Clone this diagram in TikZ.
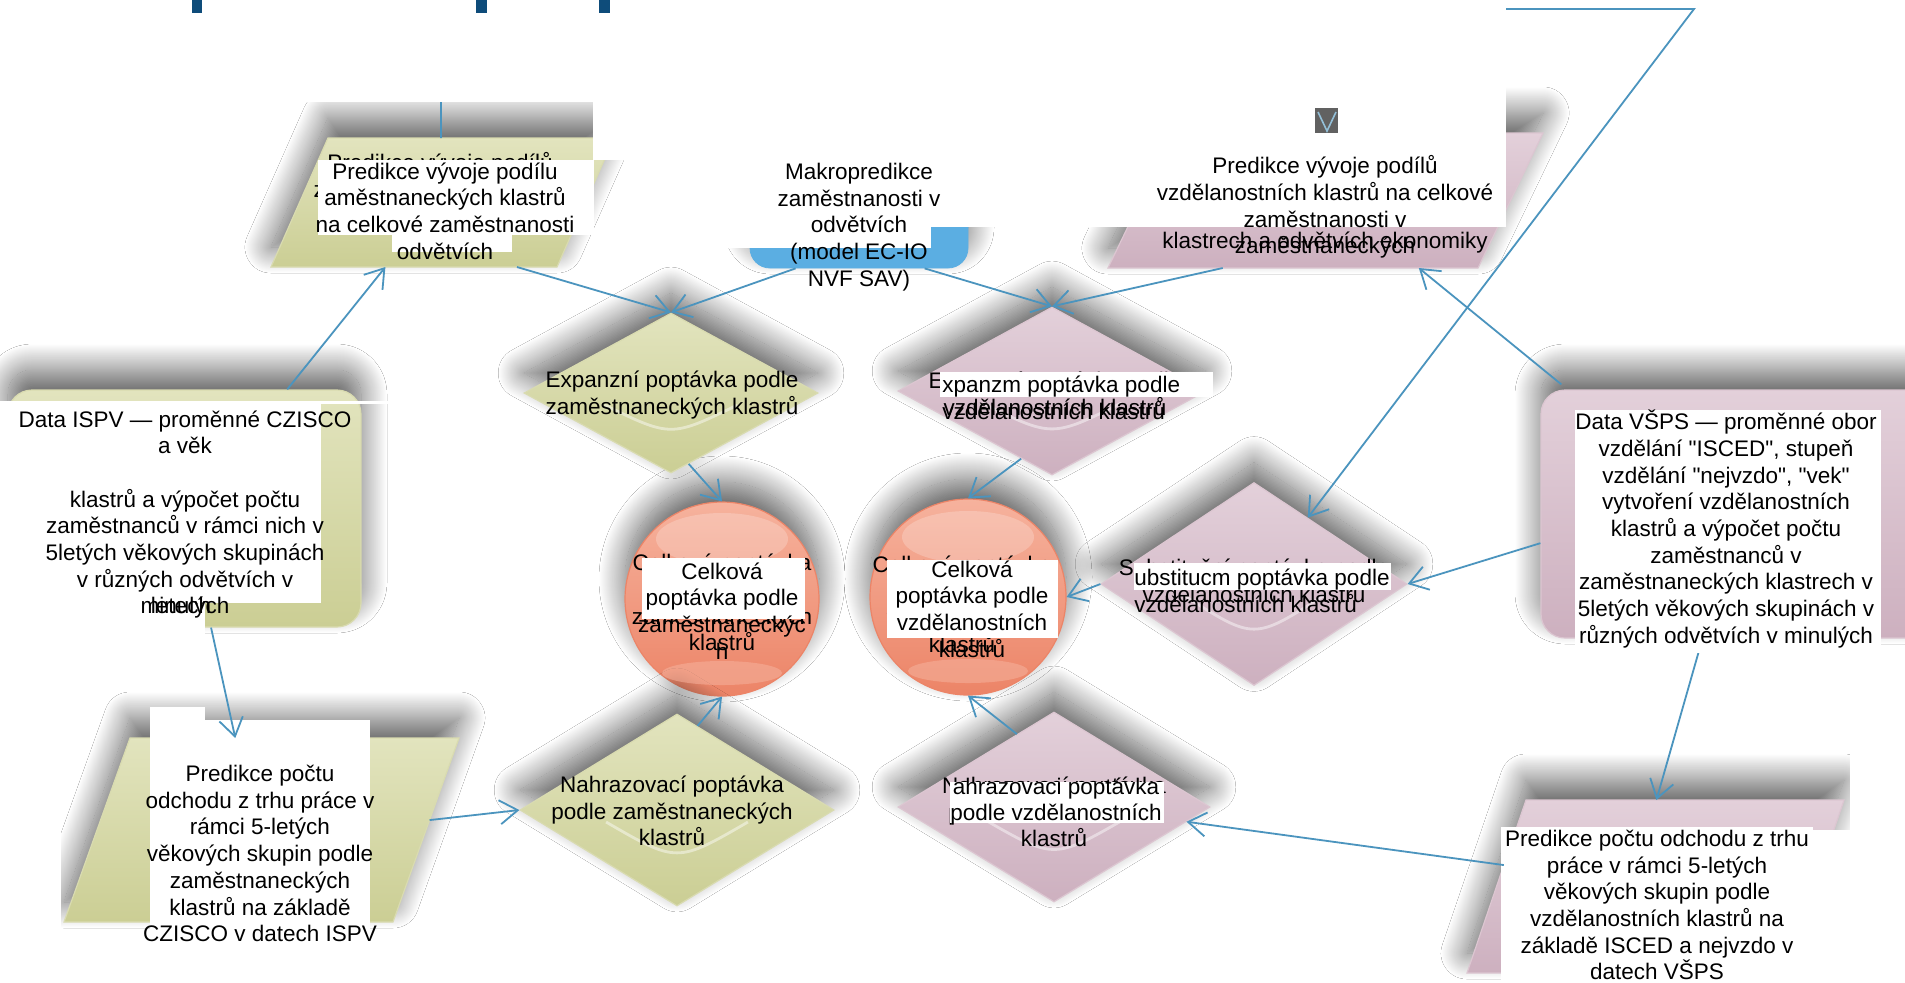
\documentclass[tikz,border=0pt]{standalone}
\usepackage{fontspec}
\setmainfont{Liberation Sans}[Ligatures=TeXOff]
\usetikzlibrary{shapes.geometric,arrows.meta,calc,shadows.blur}
\definecolor{lineblue}{HTML}{4B94BE}
\definecolor{gLight}{HTML}{E2E4BE}
\definecolor{gDark}{HTML}{CBCE94}
\definecolor{gEdge}{HTML}{D9DBB0}
\definecolor{mLight}{HTML}{E3D0DA}
\definecolor{mDark}{HTML}{CDB0BF}
\definecolor{mEdge}{HTML}{DCC6D1}
\definecolor{rLight}{HTML}{F6B29D}
\definecolor{rDark}{HTML}{EC8467}
\definecolor{bFill}{HTML}{5BAEE2}
\definecolor{navy}{HTML}{0E4C7A}
\newcommand\diagfont{\fontsize{11.25}{13.35}\selectfont}
\begin{document}
\begin{tikzpicture}[x=0.5pt,y=-0.5pt,
  glow/.style={blur shadow={shadow xshift=0pt,shadow yshift=10pt,shadow blur radius=13pt,shadow opacity=62,shadow blur steps=40}},
  gshape/.style={glow,top color=gLight,bottom color=gDark,draw=gEdge,line width=0.6pt,inner sep=0pt},
  mshape/.style={glow,top color=mLight,bottom color=mDark,draw=mEdge,line width=0.6pt,inner sep=0pt},
  rshape/.style={glow,top color=rLight,bottom color=rDark,draw=rDark,line width=0.6pt,inner sep=0pt},
  bshape/.style={glow,fill=bFill,draw=bFill,inner sep=0pt},
  conn/.style={draw=lineblue,line width=0.9pt,-{Straight Barb[length=9pt,width=12pt]}},
  plainconn/.style={draw=lineblue,line width=0.9pt},
  smile/.style={draw=white,opacity=0.45,line width=1.4pt},
  txt/.style={font=\diagfont,align=center,inner sep=0pt,text=black}]
\useasboundingbox (0,0) rectangle (1905,982);
\fill[white] (0,0) rectangle (1905,982);

% ---------- parallelogram corners ----------
\coordinate (gp1bl) at (271,267); \coordinate (gp1br) at (557,267);
\coordinate (gp1tr) at (614,138); \coordinate (gp1tl) at (328,138);
\coordinate (gp2bl) at (1108,268); \coordinate (gp2br) at (1478,268);
\coordinate (gp2tr) at (1543,133); \coordinate (gp2tl) at (1173,133);
\coordinate (gp3bl) at (64,922); \coordinate (gp3br) at (393,922);
\coordinate (gp3tr) at (459,738); \coordinate (gp3tl) at (130,738);
\coordinate (gp4bl) at (1467,973); \coordinate (gp4br) at (1785,973);
\coordinate (gp4tr) at (1844,800); \coordinate (gp4tl) at (1526,800);

% ---------- shapes ----------
\path[gshape] (gp1bl) -- (gp1br) -- (gp1tr) -- (gp1tl) -- cycle;
\path[mshape] (gp2bl) -- (gp2br) -- (gp2tr) -- (gp2tl) -- cycle;
\node[bshape,rectangle,rounded corners=10pt,minimum width=109pt,minimum height=31.5pt] (mak) at (859,236.5) {};
\node[gshape,rectangle,rounded corners=12pt,minimum width=176.5pt,minimum height=118.5pt] (isp) at (184.5,508.5) {};
\node[mshape,rectangle,rounded corners=12pt,minimum width=197pt,minimum height=124pt] (vsps) at (1738,514) {};
\node[rshape,circle,minimum size=97pt] (c1) at (722,599) {};
\node[rshape,circle,minimum size=98pt] (c2) at (968,597) {};
\node[gshape,diamond,minimum width=147pt,minimum height=80pt] (edg) at (671,393) {};
\node[mshape,diamond,minimum width=154pt,minimum height=84pt] (edm) at (1052,391) {};
\node[mshape,diamond,minimum width=153pt,minimum height=101.5pt] (sd) at (1254,584) {};
\node[gshape,diamond,minimum width=157pt,minimum height=96pt] (ndg) at (677,810) {};
\node[mshape,diamond,minimum width=156pt,minimum height=95pt] (ndm) at (1054,807) {};
\path[gshape] (gp3bl) -- (gp3br) -- (gp3tr) -- (gp3tl) -- cycle;
\path[mshape] (gp4bl) -- (gp4br) -- (gp4tr) -- (gp4tl) -- cycle;

% glossy highlights
\foreach \c in {c1,c2}{
  \fill[white,opacity=0.22] ($(\c.center)+(0,-60)$) ellipse [x radius=33pt,y radius=13pt];
  \fill[rLight,opacity=0.55] ($(\c.center)+(0,74)$) ellipse [x radius=30pt,y radius=6pt];
}
\foreach \d in {edg,edm,sd,ndg,ndm}{
  \draw[smile] ($(\d.center)!0.45!(\d.west)+(0,12)$) .. controls ($(\d.center)!0.55!(\d.south)$) .. ($(\d.center)!0.45!(\d.east)+(0,12)$);
}

% ---------- underlying texts ----------
\node[txt] (ugp1) at (440,177.5) {Predikce vývoje podílů\\zaměstnaneckých klastrů};
\node[txt] (ugp2) at (1325,243) {klastrech a odvětvích ekonomiky};
\node[txt] (uedm) at (1055,393.5) {Expanzní poptávka podle\\vzdělanostních klastrů};
\node[txt] (usd) at (1254,581) {Substituční poptávka podle\\vzdělanostních klastrů};
\node[txt] (uc1) at (722,602.5) {Celková poptávka\\podle\\zaměstnaneckých\\klastrů};
\node[txt] (uc2) at (962,604) {Celková poptávka\\podle\\vzdělanostních\\klastrů};
\node[txt] (undm) at (1054,812) {Nahrazovací poptávka\\podle vzdělanostních\\klastrů};

\draw[conn] ($(vsps.south west)!0.41!(vsps.south east)$) -- ($(gp4tl)!0.41!(gp4tr)$);

% ---------- white covers ----------
\fill[white] (0,0) rectangle (700,102);
\fill[white] (593,95) rectangle (760,160);
\fill[white] (318,160) rectangle (594,235);
\fill[white] (392,235) rectangle (512,252);
\fill[white] (690,150) rectangle (931,248);
\fill[white] (931,0) rectangle (1506,227);
\fill[white] (0,401) rectangle (404,403.5);
\fill[white] (0,403) rectangle (321,603);
\fill[white] (0,600) rectangle (205,640);
\fill[white] (0,690) rectangle (61,982);
\fill[white] (150,707) rectangle (205,720);
\fill[white] (150,720) rectangle (370,940);
\fill[white] (940,372) rectangle (1213,397);
\fill[white] (1134,563) rectangle (1391,590);
\fill[white] (950,782) rectangle (1164,823);
\fill[white] (642,558) rectangle (805,619);
\fill[white] (887,560) rectangle (1058,638);
\fill[white] (1575,410) rectangle (1881,653);
\fill[white] (1501,827) rectangle (1813,982);
\fill[white] (1813,830) rectangle (1905,982);
\fill[white] (1850,650) rectangle (1905,982);

% ---------- connectors ----------
\coordinate (t1) at (441,102);
\draw[plainconn] (t1) -- ($(gp1tl)!0.395!(gp1tr)$);
\draw[conn] ($(isp.north west)!0.79!(isp.north east)$) -- ($(gp1bl)!0.4!(gp1br)$);
\draw[conn] ($(gp1bl)!0.86!(gp1br)$) -- (edg.north);
\draw[conn] ($(mak.south west)!0.21!(mak.south east)$) -- (edg.north);
\draw[conn] ($(mak.south west)!0.8!(mak.south east)$) -- (edm.north);
\draw[conn] ($(gp2bl)!0.31!(gp2br)$) -- (edm.north);
\draw[conn] ($(vsps.north west)!0.053!(vsps.north east)+(0,-5)$) -- ($(gp2bl)!0.84!(gp2br)$);
\coordinate (t2a) at (1506,9);
\coordinate (t2b) at (1694,9);
\draw[conn] (t2a) -- (t2b) -- ($(sd.north)!0.35!(sd.east)$);
\draw[conn] ($(vsps.north west)!0.617!(vsps.south west)$) -- (sd.east);
\draw[conn] (sd.west) -- (c2.east);
\draw[conn] ($(edm.south)!0.2!(edm.west)$) -- (c2.north);
\draw[conn] ($(edg.south)!0.12!(edg.east)$) -- (c1.north);
\draw[conn] ($(isp.south west)!0.575!(isp.south east)$) -- ($(gp3tl)!0.32!(gp3tr)$);
\draw[conn] ($(gp3br)!0.554!(gp3tr)$) -- (ndg.west);
\draw[conn] ($(ndg.north)!0.13!(ndg.east)$) -- (c1.south);
\draw[conn] ($(ndm.north)!0.237!(ndm.west)$) -- (c2.south);
\draw[conn] ($(gp4bl)!0.624!(gp4tl)$) -- ($(ndm.east)!0.154!(ndm.south)$);

% ---------- visible texts ----------
\node[txt] (tgp1) at (445,211) {Predikce vývoje podílu\\aměstnaneckých klastrů\\na celkové zaměstnanosti\\odvětvích};
\node[txt] (tmak) at (859,227) {Makropredikce\\zaměstnanosti v\\odvětvích\\(model EC-IO\\NVF SAV)};
\node[txt] (tgp2) at (1325,207) {Predikce vývoje podílů\\vzdělanostních klastrů na celkové\\zaměstnanosti v\\zaměstnaneckých};
\node[txt] (tisp) at (185,514.5) {Data ISPV — proměnné CZISCO\\a věk\\[13.35pt]klastrů a výpočet počtu\\zaměstnanců v rámci nich v\\5letých věkových skupinách\\v různých odvětvích v\\minulých};
\node[txt] (tisp2) at (181,605) {letech};
\node[txt] (tedg) at (672,395) {Expanzní poptávka podle\\zaměstnaneckých klastrů};
\node[txt,align=left,anchor=west] (tedm) at (942,398) {xpanzm poptávka podle\\vzdělanostních klastrů};
\node[txt,align=left,anchor=west] (tsd) at (1134,591) {ubstitucm poptávka podle\\vzdělanostních klastrů};
\node[txt] (tc1) at (722,611) {Celková\\poptávka podle\\zaměstnaneckýc\\h};
\node[txt] (tc2) at (972,609) {Celková\\poptávka podle\\vzdělanostních\\klastrů};
\node[txt] (tndg) at (672,811) {Nahrazovací poptávka\\podle zaměstnaneckých\\klastrů};
\node[txt] (tndm) at (1056,801.5) {ahrazovaci poptávka\\podle vzdělanostních};
\node[txt] (tvsps) at (1726,529) {Data VŠPS — proměnné obor\\vzdělání "ISCED", stupeň\\vzdělání "nejvzdo", "vek"\\vytvoření vzdělanostních\\klastrů a výpočet počtu\\zaměstnanců v\\zaměstnaneckých klastrech v\\5letých věkových skupinách v\\různých odvětvích v minulých};
\node[txt] (tgp3) at (260,853.5) {Predikce počtu\\odchodu z trhu práce v\\rámci 5-letých\\věkových skupin podle\\zaměstnaneckých\\klastrů na základě\\CZISCO v datech ISPV};
\node[txt] (tgp4) at (1657,905) {Predikce počtu odchodu z trhu\\práce v rámci 5-letých\\věkových skupin podle\\vzdělanostních klastrů na\\základě ISCED a nejvzdo v\\datech VŠPS};

% ---------- small marks ----------
\fill[navy] (192,0) rectangle (202,13);
\fill[navy] (476,0) rectangle (487,13);
\fill[navy] (599,0) rectangle (610,13);
\fill[black!62] (1315,108) rectangle (1338,133);
\draw[lineblue!60!white,line width=0.8pt] (1318,112) -- (1327,131) -- (1336,112);
\end{tikzpicture}
\end{document}
